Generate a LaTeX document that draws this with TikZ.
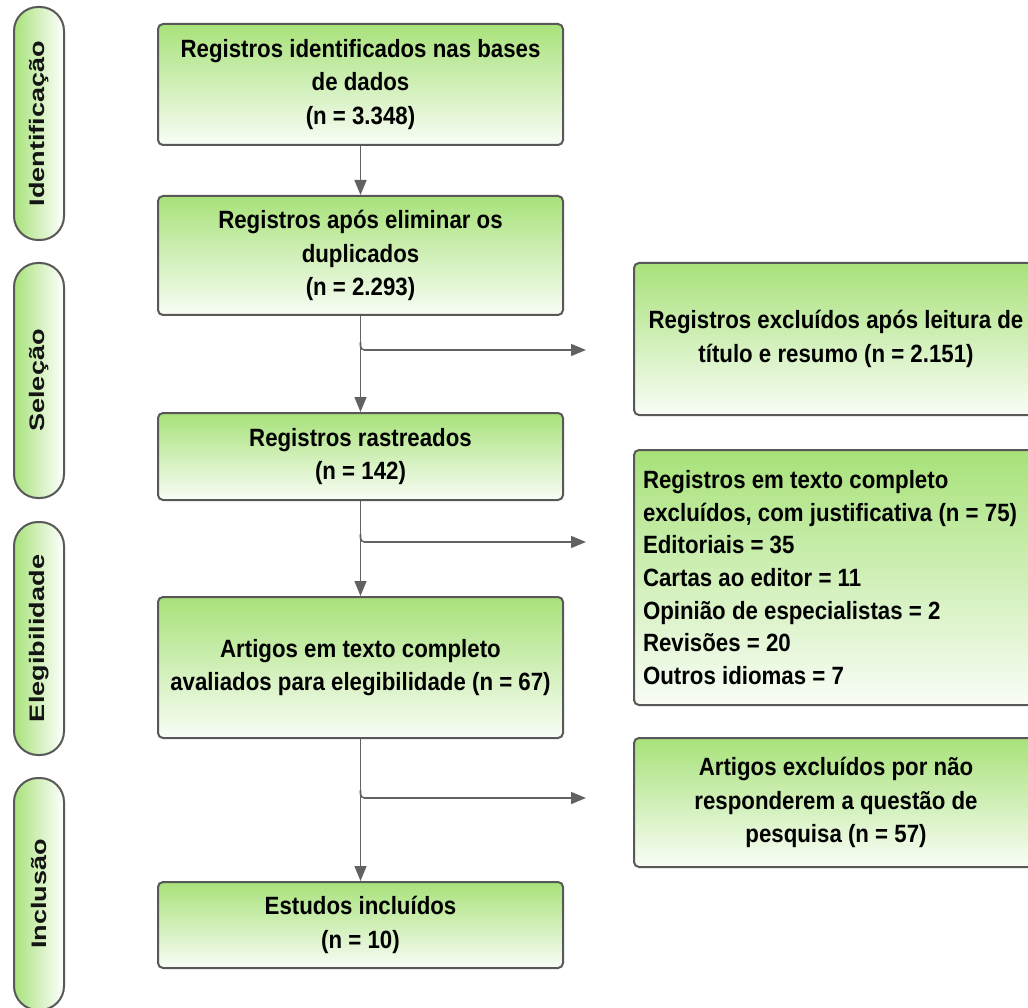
\documentclass[tikz,border=0pt]{standalone}
\usepackage{fontspec}
\usepackage{graphicx}
\setmainfont{Liberation Sans}
\newfontfamily\condbf[FakeStretch=0.89]{Liberation Sans}
\usetikzlibrary{arrows.meta,calc}
\definecolor{bgreen}{RGB}{168,226,122}
\definecolor{bwhite}{RGB}{249,253,246}
\definecolor{bline}{RGB}{88,88,88}
\definecolor{aline}{RGB}{98,98,98}
\tikzset{
  box/.style={draw=bline, line width=2pt, rounded corners=5pt, top color=bgreen, bottom color=bwhite,
    align=center, inner sep=0pt, text=black, font=\condbf\bfseries\fontsize{25}{33.5}\selectfont},
  stage/.style={draw=bline, line width=2pt, rounded corners=24pt, left color=bgreen, right color=white,
    minimum width=50pt, inner sep=0pt, text=black!92},
  arr/.style={draw=aline, line width=1.6pt, -{Triangle[length=15pt,width=12pt]}},
}
\newcommand{\stagetext}[1]{\rotatebox{90}{\scalebox{1.29}[1]{\fontsize{21}{21}\selectfont\bfseries #1}}}
\begin{document}
\begin{tikzpicture}[x=1pt,y=-1pt]
\useasboundingbox (0,0) rectangle (1028,1008);
\clip (0,0) rectangle (1028,1008);

% stage capsules
\node[stage, minimum height=233pt] (s1) at (39,123.5) {\stagetext{Identificação}};
\node[stage, minimum height=235pt] (s2) at (39,380.5) {\stagetext{Seleção}};
\node[stage, minimum height=233pt] (s3) at (39,638.5) {\stagetext{Elegibilidade}};
\node[stage, minimum height=232pt] (s4) at (39,894) {\stagetext{Inclusão}};

% main column
\node[box, minimum width=405pt, minimum height=121pt] (b1) at (360.5,84.5)
  {Registros identificados nas bases\\de dados\\(n = 3.348)};
\node[box, minimum width=405pt, minimum height=119pt] (b2) at (360.5,255.5)
  {Registros após eliminar os\\duplicados\\(n = 2.293)};
\node[box, minimum width=405pt, minimum height=87pt] (b3) at (360.5,456.5)
  {Registros rastreados\\(n = 142)};
\node[box, minimum width=405pt, minimum height=141pt] (b4) at (360.5,667.5)
  {Artigos em texto completo\\avaliados para elegibilidade (n = 67)};
\node[box, minimum width=405pt, minimum height=86pt] (b5) at (360.5,925)
  {Estudos incluídos\\(n = 10)};

% right column
\node[box, minimum width=404pt, minimum height=152pt] (r1) at (836,339)
  {Registros excluídos após leitura de\\título e resumo (n = 2.151)};
\node[box, minimum width=404pt, minimum height=255pt, text width=386pt, inner xsep=9pt, align=flush left,
  font=\condbf\bfseries\fontsize{25}{32.7}\selectfont] (r2) at (836,577.5)
  {Registros em texto completo\\excluídos, com justificativa (n = 75)\\Editoriais = 35\\Cartas ao editor = 11\\Opinião de especialistas = 2\\Revisões = 20\\Outros idiomas = 7};
\node[box, minimum width=404pt, minimum height=129pt] (r3) at (836,802.5)
  {Artigos excluídos por não\\responderem a questão de\\pesquisa (n = 57)};

% vertical arrows
\draw[arr] (b1.south) -- (b2.north);
\draw[arr] (b2.south) -- (b3.north);
\draw[arr] (b3.south) -- (b4.north);
\draw[arr] (b4.south) -- (b5.north);

% branches
\coordinate (j1) at (360.5,350); \coordinate (e1) at (586,350);
\coordinate (j2) at (360.5,542); \coordinate (e2) at (586,542);
\coordinate (j3) at (360.5,798); \coordinate (e3) at (586,798);
\draw[arr, rounded corners=4pt] ($(j1)+(0,-8)$) -- (j1) -- (e1);
\draw[arr, rounded corners=4pt] ($(j2)+(0,-8)$) -- (j2) -- (e2);
\draw[arr, rounded corners=4pt] ($(j3)+(0,-8)$) -- (j3) -- (e3);
\end{tikzpicture}
\end{document}
